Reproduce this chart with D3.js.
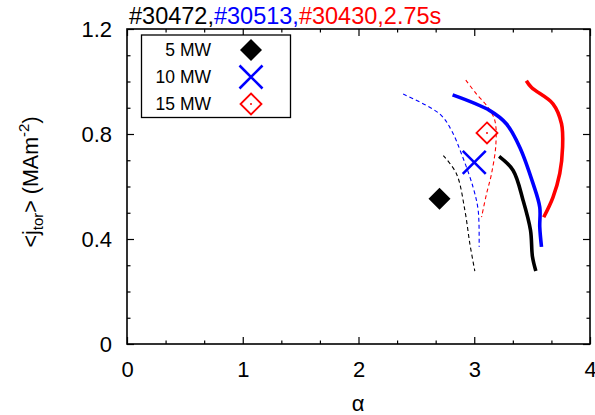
<!DOCTYPE html>
<html>
<head>
<meta charset="utf-8">
<script src="https://cdn.jsdelivr.net/npm/d3@7"></script>
<style>
  html, body { margin: 0; padding: 0; background: #fff; }
  svg { display: block; font-family: Arial, "Liberation Sans", Helvetica, sans-serif; }
</style>
</head>
<body>
<svg id="chart" width="595" height="415"></svg>
<script>
// Axis ticks
const xTicks = [0, 1, 2, 3, 4];
const yTicks = [0, 0.4, 0.8, 1.2];

// Heating power cases: label, colour, marker
const powerLabels = ["5 MW", "10 MW", "15 MW"];
const powerColors = ["#000000", "#0000ff", "#ff0000"];
const powerMarkers = ["diamondFilled", "cross", "diamondOpen"];

// Operating points (alpha, <j_tor>)
const pointAlpha = [2.70, 3.00, 3.11];
const pointJ = [0.553, 0.692, 0.804];

// Stability boundaries, solid (thick)
const solid5MW = [[3.215, 0.715], [3.336, 0.661], [3.422, 0.547], [3.486, 0.433], [3.503, 0.332], [3.532, 0.278]];
const solid10MW = [[2.813, 0.949], [3.135, 0.889], [3.279, 0.838], [3.394, 0.749], [3.509, 0.610], [3.566, 0.521], [3.566, 0.445], [3.581, 0.370]];
const solid15MW = [[3.450, 1.003], [3.495, 0.977], [3.680, 0.915], [3.754, 0.839], [3.763, 0.749], [3.739, 0.650], [3.680, 0.559], [3.600, 0.483]];

// Stability boundaries, dashed (thin)
const dashed5MW = [[2.733, 0.718], [2.847, 0.648], [2.919, 0.509], [2.962, 0.382], [3.005, 0.278]];
const dashed10MW = [[2.386, 0.952], [2.703, 0.876], [2.804, 0.813], [2.890, 0.724], [2.990, 0.597], [3.034, 0.509], [3.042, 0.370]];
const dashed15MW = [[2.927, 1.005], [3.020, 0.952], [3.120, 0.901], [3.178, 0.851], [3.187, 0.762], [3.149, 0.648], [3.106, 0.572], [3.063, 0.483]];

const solidCurves = [solid5MW, solid10MW, solid15MW];
const dashedCurves = [dashed5MW, dashed10MW, dashed15MW];

const titleParts = [
  { text: "#30472,", color: "#000000" },
  { text: "#30513,", color: "#0000ff" },
  { text: "#30430,2.75s", color: "#ff0000" }
];

const svg = d3.select("#chart");
const plotLeft = 127, plotRight = 590, plotTop = 29, plotBottom = 344;

const x = d3.scaleLinear().domain([0, 4]).range([plotLeft, plotRight]);
const y = d3.scaleLinear().domain([0, 1.2]).range([plotBottom, plotTop]);

const xMinor = d3.range(0, 4.001, 1 / 3).filter(v => Math.abs(v - Math.round(v)) > 1e-6);
const yMinor = d3.range(0, 1.2001, 0.1).filter(v => Math.abs(v / 0.4 - Math.round(v / 0.4)) > 1e-6);

function tickStyle(g) {
  g.select(".domain").remove();
  g.selectAll(".tick line").attr("stroke", "#000").attr("stroke-width", 1.2);
  g.selectAll(".tick text").attr("font-size", 22).attr("fill", "#000")
    .attr("font-family", "Arial, 'Liberation Sans', sans-serif");
}

// bottom axis (inward ticks)
svg.append("g").attr("transform", `translate(0,${plotBottom})`)
  .call(d3.axisBottom(x).tickValues(xTicks).tickFormat(d3.format("d")).tickSizeInner(-7).tickPadding(17))
  .call(tickStyle);
svg.append("g").attr("transform", `translate(0,${plotBottom})`)
  .call(d3.axisBottom(x).tickValues(xMinor).tickFormat("").tickSizeInner(-3.5))
  .call(tickStyle);
// top axis
svg.append("g").attr("transform", `translate(0,${plotTop})`)
  .call(d3.axisTop(x).tickValues(xTicks).tickFormat("").tickSizeInner(-7))
  .call(tickStyle);
svg.append("g").attr("transform", `translate(0,${plotTop})`)
  .call(d3.axisTop(x).tickValues(xMinor).tickFormat("").tickSizeInner(-3.5))
  .call(tickStyle);
// left axis
svg.append("g").attr("transform", `translate(${plotLeft},0)`)
  .call(d3.axisLeft(y).tickValues(yTicks).tickFormat(d => d === 0 ? "0" : d3.format(".1f")(d)).tickSizeInner(-7).tickPadding(15))
  .call(tickStyle);
svg.append("g").attr("transform", `translate(${plotLeft},0)`)
  .call(d3.axisLeft(y).tickValues(yMinor).tickFormat("").tickSizeInner(-3.5))
  .call(tickStyle);
// right axis
svg.append("g").attr("transform", `translate(${plotRight},0)`)
  .call(d3.axisRight(y).tickValues(yTicks).tickFormat("").tickSizeInner(-7))
  .call(tickStyle);
svg.append("g").attr("transform", `translate(${plotRight},0)`)
  .call(d3.axisRight(y).tickValues(yMinor).tickFormat("").tickSizeInner(-3.5))
  .call(tickStyle);

// frame
svg.append("rect")
  .attr("x", plotLeft).attr("y", plotTop).attr("width", plotRight - plotLeft).attr("height", plotBottom - plotTop)
  .attr("fill", "none").attr("stroke", "#000").attr("stroke-width", 1.6);

// curves
const line = d3.line().x(d => x(d[0])).y(d => y(d[1])).curve(d3.curveCatmullRom.alpha(0.5));

dashedCurves.forEach((c, i) => {
  svg.append("path").attr("d", line(c))
    .attr("fill", "none").attr("stroke", powerColors[i])
    .attr("stroke-width", 1.1).attr("stroke-dasharray", "4,3");
});
solidCurves.forEach((c, i) => {
  svg.append("path").attr("d", line(c))
    .attr("fill", "none").attr("stroke", powerColors[i])
    .attr("stroke-width", 3.6).attr("stroke-linecap", "butt").attr("stroke-linejoin", "round");
});

// markers
function drawMarker(g, kind, color, cx, cy) {
  if (kind === "diamondFilled") {
    const r = 11;
    g.append("path").attr("d", `M${cx},${cy - r}L${cx + r},${cy}L${cx},${cy + r}L${cx - r},${cy}Z`)
      .attr("fill", color);
  } else if (kind === "cross") {
    const r = 11.5;
    g.append("path").attr("d", `M${cx - r},${cy - r}L${cx + r},${cy + r}M${cx - r},${cy + r}L${cx + r},${cy - r}`)
      .attr("stroke", color).attr("stroke-width", 2.6).attr("fill", "none");
  } else {
    const r = 10.5;
    g.append("path").attr("d", `M${cx},${cy - r}L${cx + r},${cy}L${cx},${cy + r}L${cx - r},${cy}Z`)
      .attr("fill", "none").attr("stroke", color).attr("stroke-width", 1.8);
    g.append("circle").attr("cx", cx).attr("cy", cy).attr("r", 1).attr("fill", color);
  }
}

const markerLayer = svg.append("g");
pointAlpha.forEach((a, i) => drawMarker(markerLayer, powerMarkers[i], powerColors[i], x(a), y(pointJ[i])));

// legend
const legend = svg.append("g");
legend.append("rect").attr("x", 141.5).attr("y", 35).attr("width", 149).attr("height", 82.5)
  .attr("fill", "#fff").attr("stroke", "#000").attr("stroke-width", 1.3);
const rowY = [50, 77, 104];
powerLabels.forEach((lab, i) => {
  legend.append("text").attr("x", 211).attr("y", rowY[i]).attr("dy", "0.36em")
    .attr("text-anchor", "end").attr("font-size", 17.5).attr("fill", "#000").text(lab);
  drawMarker(legend, powerMarkers[i], powerColors[i], 251, rowY[i]);
});

// title
const title = svg.append("text").attr("x", 129).attr("y", 24).attr("font-size", 23.5);
titleParts.forEach(p => title.append("tspan").attr("fill", p.color).text(p.text));

// axis labels
svg.append("text").attr("x", (plotLeft + plotRight) / 2 - 0.5).attr("y", 411)
  .attr("text-anchor", "middle").attr("font-size", 22).attr("fill", "#000").text("α");

const yl = svg.append("text")
  .attr("transform", "translate(38,182) rotate(-90)")
  .attr("text-anchor", "middle").attr("font-size", 21.5).attr("fill", "#000");
yl.append("tspan").text("<j");
yl.append("tspan").attr("font-size", 15).attr("dy", 5).text("tor");
yl.append("tspan").attr("dy", -5).text("> (MAm");
yl.append("tspan").attr("font-size", 15).attr("dy", -9).text("-2");
yl.append("tspan").attr("dy", 9).text(")");
</script>
</body>
</html>
